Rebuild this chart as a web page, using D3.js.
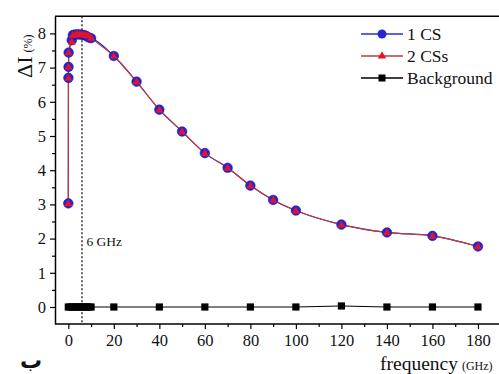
<!DOCTYPE html>
<html><head><meta charset="utf-8">
<script src="https://cdn.jsdelivr.net/npm/d3@7"></script>
<style>body{margin:0;background:#fff}svg{display:block}</style>
</head><body><svg id="c" width="499" height="374" style="font-family:'Liberation Serif','DejaVu Serif',serif"></svg>
<script>
const freq = [0, 0.05, 0.1, 0.15, 1.5, 2, 3, 4, 5, 6, 7, 8, 9, 10, 20, 30, 40, 50, 60, 70, 80, 90, 100, 120, 140, 160, 180];
const cs1 = [3.03, 6.70, 7.02, 7.44, 7.80, 7.95, 7.97, 7.97, 7.97, 7.96, 7.95, 7.92, 7.88, 7.86, 7.34, 6.59, 5.77, 5.13, 4.50, 4.07, 3.55, 3.13, 2.82, 2.41, 2.18, 2.08, 1.77];
const cs2 = [3.03, 6.70, 7.02, 7.44, 7.76, 7.95, 7.97, 7.98, 7.98, 7.97, 7.96, 7.95, 7.93, 7.87, 7.34, 6.59, 5.77, 5.13, 4.50, 4.07, 3.55, 3.13, 2.82, 2.41, 2.18, 2.08, 1.77];
const bgFreq = [0, 1, 2, 3, 4, 5, 6, 7, 8, 9, 10, 20, 40, 60, 80, 100, 120, 140, 160, 180];
const bgVal = [0, 0, 0, 0, 0, 0, 0, 0, 0, 0, 0, 0, 0, 0, 0, 0, 0.03, 0, 0, 0];
const xTicks = [0, 20, 40, 60, 80, 100, 120, 140, 160, 180];
const yTicks = [0, 1, 2, 3, 4, 5, 6, 7, 8];
const legendLabels = ["1 CS", "2 CSs", "Background"];
const markerLine = 6;

const SERIF = "'Liberation Serif','DejaVu Serif',serif";
const svg = d3.select("#c");
const x = d3.scaleLinear().domain([-5.85, 195]).range([55, 512.1]);
const y = d3.scaleLinear().domain([-0.5, 8.5]).range([324.1, 16.3]);
const L = 55, R = 512, T = 16.3, B = 324.1;

svg.append("line").attr("x1", L).attr("x2", R).attr("y1", T).attr("y2", T).attr("stroke", "#000").attr("stroke-width", 1.5);

const xAx = svg.append("g").attr("transform", `translate(0,${B})`)
  .call(d3.axisBottom(x).tickValues(xTicks).tickSize(5).tickSizeOuter(0).tickPadding(5));
svg.append("g").attr("transform", `translate(0,${B})`)
  .call(d3.axisBottom(x).tickValues(d3.range(10, 190, 20)).tickSize(3).tickFormat("").tickSizeOuter(0))
  .select(".domain").remove();
const yAx = svg.append("g").attr("transform", `translate(${L},0)`)
  .call(d3.axisLeft(y).tickValues(yTicks).tickSize(5).tickSizeOuter(0).tickPadding(4));
svg.append("g").attr("transform", `translate(${L},0)`)
  .call(d3.axisLeft(y).tickValues(d3.range(0.5, 8.5, 1)).tickSize(3).tickFormat("").tickSizeOuter(0))
  .select(".domain").remove();
svg.selectAll("g").attr("font-family", SERIF);
svg.selectAll(".domain").attr("stroke-width", 1.5).attr("stroke", "#000");
svg.selectAll(".tick line").attr("stroke", "#000").attr("stroke-width", 1.2);
svg.selectAll(".tick text").attr("font-family", SERIF).style("font-family", SERIF).style("font-size", "16.5px").attr("fill", "#111");
xAx.selectAll(".domain").attr("d", `M${L},0H${R}`);

svg.append("line").attr("x1", x(markerLine)).attr("x2", x(markerLine)).attr("y1", T).attr("y2", B)
  .attr("stroke", "#000").attr("stroke-width", 1.2).attr("stroke-dasharray", "2,2");
svg.append("text").attr("x", x(markerLine) + 4.5).attr("y", 246).style("font-family", SERIF).style("font-size", "13.5px").attr("fill", "#111").text("6 GHz");

svg.append("path").datum(d3.zip(bgFreq, bgVal)).attr("d", d3.line().x(d => x(d[0])).y(d => y(d[1])))
  .attr("fill", "none").attr("stroke", "#000").attr("stroke-width", 1);
svg.append("path").datum(d3.zip(freq, cs1)).attr("d", d3.line().x(d => x(d[0])).y(d => y(d[1])).curve(d3.curveMonotoneX))
  .attr("fill", "none").attr("stroke", "#2a2ad8").attr("stroke-width", 1.2);
svg.append("path").datum(d3.zip(freq, cs2)).attr("d", d3.line().x(d => x(d[0])).y(d => y(d[1])).curve(d3.curveMonotoneX))
  .attr("fill", "none").attr("stroke", "#c03a3a").attr("stroke-width", 1.2);

svg.append("g").selectAll("rect").data(d3.zip(bgFreq, bgVal)).join("rect")
  .attr("x", d => x(d[0]) - 3.6).attr("y", d => y(d[1]) - 3.6).attr("width", 7.2).attr("height", 7.2).attr("fill", "#000");
svg.append("g").selectAll("circle").data(d3.zip(freq, cs1)).join("circle")
  .attr("cx", d => x(d[0])).attr("cy", d => y(d[1])).attr("r", 4.8).attr("fill", "#2626d2").attr("stroke", "#1a1aa8").attr("stroke-width", 0.6);
const tri = d3.symbol().type(d3.symbolTriangle).size(28);
svg.append("g").selectAll("path").data(d3.zip(freq, cs2)).join("path")
  .attr("transform", d => `translate(${x(d[0])},${y(d[1]) + 0.5})`).attr("d", tri).attr("fill", "#e3122e");

const lg = svg.append("g");
const ly = [34, 56, 78];
const lcol = ["#2a2ad8", "#c03a3a", "#000"];
legendLabels.forEach((lab, i) => {
  lg.append("line").attr("x1", 361).attr("x2", 403).attr("y1", ly[i]).attr("y2", ly[i]).attr("stroke", lcol[i]).attr("stroke-width", 1.3);
  if (i === 0) lg.append("circle").attr("cx", 382).attr("cy", ly[i]).attr("r", 4.5).attr("fill", "#2626d2");
  if (i === 1) lg.append("path").attr("transform", `translate(382,${ly[i]})`).attr("d", d3.symbol().type(d3.symbolTriangle).size(30)).attr("fill", "#e3122e");
  if (i === 2) lg.append("rect").attr("x", 378.5).attr("y", ly[i] - 3.5).attr("width", 7).attr("height", 7).attr("fill", "#000");
  lg.append("text").attr("x", 407).attr("y", ly[i] + 5.5).style("font-family", SERIF).style("font-size", "17.5px").attr("fill", "#111").text(lab);
});

const yt = svg.append("text").attr("transform", "translate(32,78) rotate(-90)").style("font-family", SERIF).attr("fill", "#111");
yt.append("tspan").style("font-size", "22px").text("ΔI");
yt.append("tspan").style("font-size", "12px").attr("dx", 4).text("(%)");

const xt = svg.append("text").attr("x", 380).attr("y", 370).style("font-family", SERIF).attr("fill", "#111");
xt.append("tspan").style("font-size", "19.5px").text("frequency");
xt.append("tspan").style("font-size", "12px").attr("dx", 4).text("(GHz)");

svg.append("text").attr("x", 20).attr("y", 368).style("font-size", "22px").style("font-weight", "bold")
  .style("font-family", "'DejaVu Sans',sans-serif").attr("fill", "#111").text("ب");
</script></body></html>
